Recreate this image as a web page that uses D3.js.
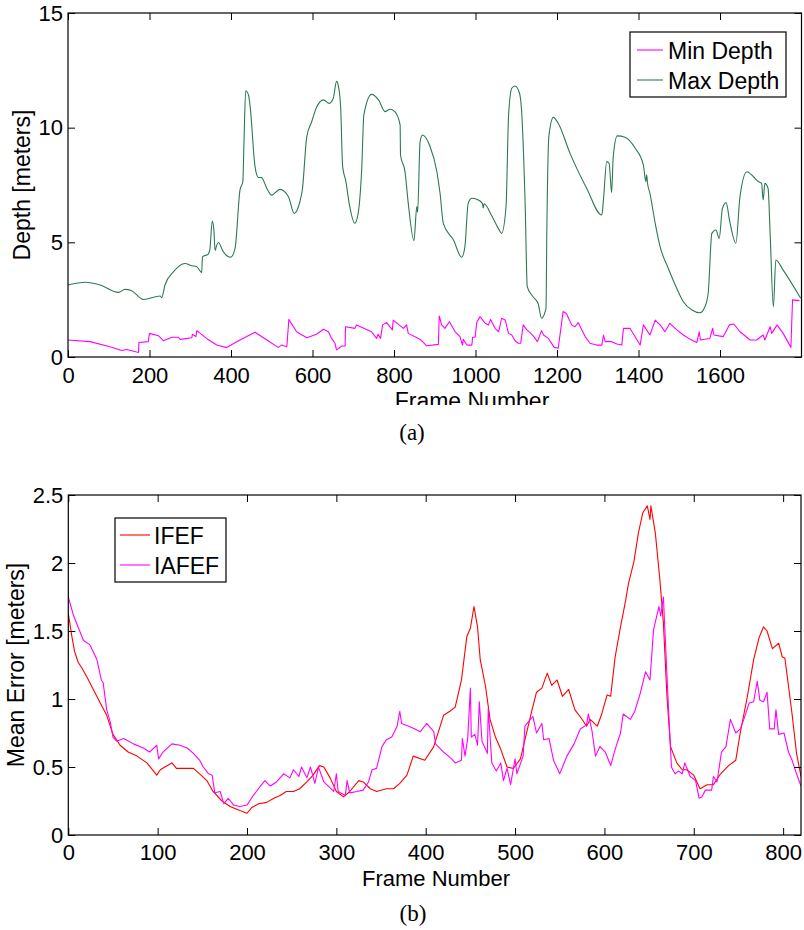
<!DOCTYPE html>
<html>
<head>
<meta charset="utf-8">
<script src="https://cdn.jsdelivr.net/npm/d3@7"></script>
<style>
  body { margin: 0; background: #fff; }
  svg { display: block; }
  text { font-family: "Liberation Sans", Arial, Helvetica, sans-serif; fill: #000; }
</style>
</head>
<body>
<svg id="chart" width="804" height="930"></svg>
<script>
// ---------- DATA: panel (a) ----------
const maxDepthFrames = [0,42,79,124,140,156,185,226,230,238,259,287,304,316,328,330,344,348,354,358,361,365,369,381,399,410,422,429,432,436,443,447,459,467,475,488,500,520,541,555,569,575,586,598,610,627,641,651,659,663,669,674,682,690,704,712,721,726,745,762,778,790,802,815,816,827,835,849,856,858,864,870,888,905,913,921,946,966,974,982,991,1003,1017,1019,1021,1040,1056,1064,1075,1081,1089,1097,1108,1113,1122,1127,1138,1154,1162,1173,1175,1180,1191,1203,1232,1273,1310,1314,1322,1328,1334,1338,1348,1367,1392,1412,1418,1420,1422,1428,1441,1453,1473,1494,1510,1531,1551,1563,1571,1580,1590,1598,1606,1615,1624,1639,1649,1666,1682,1694,1702,1706,1710,1718,1723,1731,1737,1755,1798];
const maxDepthValues = [3.14,3.26,3.14,2.82,2.95,2.89,2.51,2.66,2.59,3.14,3.72,4.08,3.98,3.94,3.68,4.37,4.49,4.67,5.93,5.54,4.64,4.88,4.99,4.59,4.35,4.74,7.28,7.65,9.46,11.61,11.42,10.92,8.30,7.83,7.82,7.35,7.06,7.31,6.99,6.26,6.77,7.28,9.61,10.26,10.89,11.21,11.06,11.28,12.02,11.86,10.92,8.30,7.65,6.70,5.83,6.26,8.30,10.55,11.45,11.21,10.70,10.80,10.70,10.12,8.81,8.08,6.70,5.07,6.56,6.31,9.39,9.68,9.20,8.10,7.14,5.83,5.10,4.35,4.81,6.70,6.92,6.88,6.70,6.50,6.68,6.15,5.61,5.39,6.56,10.48,11.72,11.82,11.50,10.77,6.56,3.07,2.70,2.31,1.69,2.12,5.39,9.61,10.45,10.19,8.88,7.35,6.19,6.85,8.52,8.44,7.17,8.74,9.64,9.58,9.10,8.37,7.65,7.95,7.60,7.14,5.83,4.81,3.87,2.99,2.41,2.05,1.93,2.19,2.78,5.39,5.54,5.17,6.48,6.73,5.90,4.96,6.99,8.08,7.86,7.65,7.57,6.85,7.57,7.35,5.39,2.19,4.23,3.79,2.56];

const minDepthFrames = [0,54,103,132,144,173,174,197,200,222,234,255,271,275,304,305,314,316,340,365,389,422,459,488,516,524,537,542,561,586,610,627,639,647,655,659,672,680,681,704,708,745,757,761,767,772,782,796,798,823,831,835,860,868,880,909,911,917,925,936,950,962,968,970,979,991,993,999,1003,1011,1024,1032,1037,1048,1057,1064,1073,1081,1089,1097,1105,1111,1117,1126,1134,1143,1152,1162,1167,1179,1193,1203,1215,1223,1236,1244,1252,1269,1281,1297,1310,1314,1318,1334,1347,1359,1363,1379,1404,1412,1428,1441,1453,1465,1477,1494,1510,1527,1543,1549,1552,1575,1582,1585,1608,1623,1634,1649,1674,1690,1706,1710,1723,1727,1740,1755,1774,1778,1795];
const minDepthValues = [0.74,0.67,0.45,0.28,0.33,0.20,0.63,0.67,1.03,0.93,0.71,0.86,0.86,0.77,0.84,0.99,0.89,1.15,0.81,0.52,0.41,0.74,1.08,0.74,0.42,0.52,0.45,1.64,1.10,0.84,0.99,1.21,1.10,0.81,0.60,0.31,0.48,0.48,1.32,1.25,1.40,1.10,0.81,0.99,0.81,1.40,1.50,1.18,1.61,1.25,1.40,1.03,0.81,0.71,0.49,0.55,1.79,1.40,1.25,1.54,1.10,0.89,0.52,0.77,0.52,0.52,0.86,0.86,1.50,1.76,1.47,1.40,1.64,1.25,1.10,1.69,1.61,1.03,0.96,0.71,0.60,0.60,1.40,1.18,1.06,0.89,0.67,1.15,0.96,0.81,0.42,0.38,1.98,1.90,1.40,1.32,1.50,0.89,0.60,0.52,0.52,0.96,0.67,0.67,0.57,0.52,1.25,1.25,0.52,1.40,0.96,1.61,1.40,1.10,1.47,1.18,0.96,0.77,0.63,1.10,0.74,0.81,1.25,0.96,0.89,1.40,1.44,1.10,0.74,0.74,0.96,0.74,1.32,1.03,1.40,1.03,0.42,2.49,2.46];

// ---------- DATA: panel (b) ----------
const ifefFrames = [0,4,7,11,15,21,28,35,43,50,58,67,77,88,99,103,108,116,121,133,140,147,155,162,172,181,192,200,205,213,222,230,237,244,252,259,267,274,281,286,293,300,308,315,325,330,338,345,356,364,371,379,386,399,409,420,427,433,440,446,450,454,458,461,467,472,478,484,491,498,506,511,519,524,530,536,541,547,553,560,567,574,580,584,592,597,603,607,612,618,623,627,633,638,643,648,651,652,657,662,666,670,674,681,687,692,700,707,715,722,730,739,747,752,760,767,773,778,782,788,795,799,802,810,815,820];
const ifefValues = [1.63,1.46,1.35,1.27,1.23,1.16,1.07,0.98,0.88,0.74,0.66,0.61,0.58,0.53,0.44,0.48,0.50,0.53,0.49,0.49,0.49,0.45,0.40,0.32,0.25,0.21,0.18,0.16,0.20,0.23,0.24,0.27,0.29,0.32,0.32,0.34,0.39,0.44,0.51,0.50,0.42,0.32,0.28,0.32,0.40,0.39,0.34,0.32,0.34,0.34,0.38,0.44,0.58,0.55,0.65,0.88,0.91,0.94,1.14,1.46,1.52,1.68,1.53,1.29,1.09,0.85,0.72,0.63,0.50,0.49,0.56,0.70,0.92,1.05,1.08,1.19,1.10,1.14,1.02,1.07,0.92,0.86,0.80,0.85,0.80,0.89,1.03,1.02,1.31,1.53,1.70,1.85,2.01,2.22,2.37,2.42,2.32,2.42,2.22,1.88,1.56,1.02,0.65,0.53,0.48,0.48,0.44,0.34,0.37,0.37,0.45,0.51,0.55,0.75,1.02,1.29,1.45,1.53,1.50,1.37,1.41,1.31,1.30,0.89,0.60,0.43];

const iafefFrames = [0,6,11,17,24,32,37,39,43,47,50,54,62,73,84,91,99,101,106,116,125,133,140,147,151,157,161,164,170,174,179,185,192,200,207,215,220,226,233,241,248,252,258,261,267,271,276,280,286,291,297,300,302,310,312,315,323,330,336,340,345,351,356,362,368,371,373,381,388,394,401,409,411,420,429,433,440,441,444,447,450,451,455,458,460,463,469,470,474,479,484,487,491,495,500,502,509,511,517,520,524,530,532,538,543,550,558,566,573,580,582,586,590,595,601,607,612,618,621,629,634,640,646,651,655,661,663,666,668,672,675,679,683,687,690,696,702,706,709,713,720,722,726,731,736,741,747,752,756,762,767,771,774,778,782,785,790,792,795,801,806,810,815,820];
const iafefValues = [1.75,1.61,1.53,1.43,1.40,1.29,1.14,1.12,0.92,0.83,0.72,0.69,0.71,0.67,0.64,0.61,0.66,0.56,0.61,0.67,0.66,0.64,0.60,0.55,0.50,0.45,0.44,0.31,0.32,0.23,0.27,0.22,0.21,0.22,0.29,0.36,0.40,0.36,0.39,0.45,0.42,0.48,0.43,0.50,0.42,0.50,0.38,0.50,0.39,0.36,0.32,0.45,0.32,0.29,0.40,0.31,0.32,0.33,0.39,0.48,0.49,0.65,0.70,0.72,0.80,0.91,0.82,0.80,0.78,0.76,0.82,0.76,0.67,0.61,0.56,0.53,0.55,0.71,0.58,0.71,1.08,0.72,0.74,0.66,0.98,0.69,0.60,0.93,0.53,0.47,0.53,0.40,0.49,0.37,0.56,0.45,0.58,0.80,0.85,0.87,0.75,0.82,0.70,0.71,0.55,0.45,0.58,0.67,0.78,0.81,0.89,0.77,0.58,0.65,0.61,0.51,0.63,0.75,0.89,0.85,0.91,1.04,1.20,1.14,1.51,1.68,1.61,1.75,1.46,0.89,0.50,0.45,0.47,0.45,0.53,0.43,0.40,0.27,0.28,0.33,0.33,0.43,0.39,0.61,0.65,0.85,0.75,0.78,0.85,0.97,0.98,1.13,0.99,0.98,1.05,0.78,0.78,0.92,0.74,0.75,0.61,0.55,0.45,0.36];

const topXTicks = [0,200,400,600,800,1000,1200,1400,1600];
const topYTicks = [0,5,10,15];
const botXTicks = [0,100,200,300,400,500,600,700,800];
const botYTicks = [0,0.5,1,1.5,2,2.5];

const topSeries = [
  {name: "Min Depth", frames: minDepthFrames, values: minDepthValues, color: "#ff00ff", smooth: false},
  {name: "Max Depth", frames: maxDepthFrames, values: maxDepthValues, color: "#2a7a52", smooth: true}
];
const botSeries = [
  {name: "IFEF", frames: ifefFrames, values: ifefValues, color: "#ff0000", smooth: false},
  {name: "IAFEF", frames: iafefFrames, values: iafefValues, color: "#ff00ff", smooth: false}
];

const svg = d3.select("#chart");
const FS = 22;

function panel(cfg) {
  const {left, right, top, bottom, xDomain, yDomain, xTicks, yTicks, yFmt, series,
         xPad, yLabel, yLabelX, xLabelX, xLabelBaseline, xLabelSize, clipBottom, legend, caption} = cfg;
  const x = d3.scaleLinear().domain(xDomain).range([left, right]);
  const y = d3.scaleLinear().domain(yDomain).range([bottom, top]);
  const g = svg.append("g");

  const clipId = "clip" + Math.round(top);
  svg.append("clipPath").attr("id", clipId)
    .append("rect").attr("x", left).attr("y", top).attr("width", right - left).attr("height", bottom - top);

  const plot = g.append("g").attr("clip-path", `url(#${clipId})`);
  series.forEach(s => {
    const pts = s.frames.map((f, i) => [f, s.values[i]]);
    const line = d3.line().x(d => x(d[0])).y(d => y(d[1]))
      .curve(s.smooth ? d3.curveMonotoneX : d3.curveLinear);
    plot.append("path").attr("d", line(pts)).attr("fill", "none")
      .attr("stroke", s.color).attr("stroke-width", 1.1).attr("stroke-linejoin", "round");
  });

  const styleAxis = sel => {
    sel.select(".domain").remove();
    sel.selectAll("line").attr("stroke", "#000");
    sel.selectAll("text").attr("font-size", FS).attr("font-family", "Liberation Sans, Arial, sans-serif").attr("fill", "#000");
  };
  g.append("g").attr("transform", `translate(0,${bottom})`)
    .call(d3.axisBottom(x).tickValues(xTicks).tickSizeInner(-7).tickSizeOuter(0).tickPadding(xPad).tickFormat(d3.format("d")))
    .call(styleAxis);
  g.append("g").attr("transform", `translate(0,${top})`)
    .call(d3.axisTop(x).tickValues(xTicks).tickSizeInner(-7).tickSizeOuter(0).tickFormat(""))
    .call(styleAxis);
  g.append("g").attr("transform", `translate(${left},0)`)
    .call(d3.axisLeft(y).tickValues(yTicks).tickSizeInner(-7).tickSizeOuter(0).tickPadding(5).tickFormat(yFmt))
    .call(styleAxis);
  g.append("g").attr("transform", `translate(${right},0)`)
    .call(d3.axisRight(y).tickValues(yTicks).tickSizeInner(-7).tickSizeOuter(0).tickFormat(""))
    .call(styleAxis);

  g.append("rect").attr("x", left).attr("y", top).attr("width", right - left).attr("height", bottom - top)
    .attr("fill", "none").attr("stroke", "#000").attr("stroke-width", 1.2);

  // y label
  g.append("text").attr("transform", `translate(${yLabelX},${(top + bottom) / 2}) rotate(-90)`)
    .attr("text-anchor", "middle").attr("font-size", 23).text(yLabel);

  // x label (possibly clipped)
  const xl = g.append("text").attr("x", xLabelX).attr("y", xLabelBaseline)
    .attr("text-anchor", "middle").attr("font-size", xLabelSize).text("Frame Number");
  if (clipBottom) {
    const cid = "xlclip" + Math.round(top);
    svg.append("clipPath").attr("id", cid).append("rect")
      .attr("x", 0).attr("y", bottom + 1).attr("width", 804).attr("height", clipBottom - bottom - 1);
    xl.attr("clip-path", `url(#${cid})`);
  }

  // legend
  const lg = g.append("g");
  lg.append("rect").attr("x", legend.x).attr("y", legend.y).attr("width", legend.w).attr("height", legend.h)
    .attr("fill", "#fff").attr("stroke", "#000").attr("stroke-width", 1.2);
  series.forEach((s, i) => {
    const cy = legend.y + legend.row0 + i * legend.rowH;
    lg.append("line").attr("x1", legend.x + legend.lx1).attr("x2", legend.x + legend.lx2)
      .attr("y1", cy).attr("y2", cy).attr("stroke", s.color).attr("stroke-width", 1.1);
    lg.append("text").attr("x", legend.x + legend.tx).attr("y", cy + 8.5)
      .attr("font-size", 23).text(s.name);
  });

  // caption
  svg.append("text").attr("x", caption.x).attr("y", caption.y).attr("text-anchor", "middle")
    .attr("font-size", 23)
    .style("font-family", "'Liberation Serif', 'DejaVu Serif', serif").text(caption.text);
}

panel({
  left: 68, right: 801.5, top: 13, bottom: 357,
  xDomain: [0, 1800], yDomain: [0, 15], xTicks: topXTicks, yTicks: topYTicks,
  yFmt: d3.format("d"), series: topSeries, xPad: 10,
  yLabel: "Depth [meters]", yLabelX: 30, xLabelX: 472, xLabelBaseline: 409, xLabelSize: 23, clipBottom: 405,
  legend: {x: 630, y: 32, w: 156, h: 65, row0: 18, rowH: 30, lx1: 7, lx2: 33, tx: 38},
  caption: {x: 412, y: 440, text: "(a)"}
});

panel({
  left: 68.3, right: 801, top: 495, bottom: 835,
  xDomain: [0, 820], yDomain: [0, 2.5], xTicks: botXTicks, yTicks: botYTicks,
  yFmt: d => String(d), series: botSeries, xPad: 9.5,
  yLabel: "Mean Error [meters]", yLabelX: 24, xLabelX: 436, xLabelBaseline: 885.5, xLabelSize: 22, clipBottom: null,
  legend: {x: 115, y: 518, w: 111, h: 64, row0: 17, rowH: 30, lx1: 5, lx2: 35, tx: 39},
  caption: {x: 413, y: 921, text: "(b)"}
});
</script>
</body>
</html>
